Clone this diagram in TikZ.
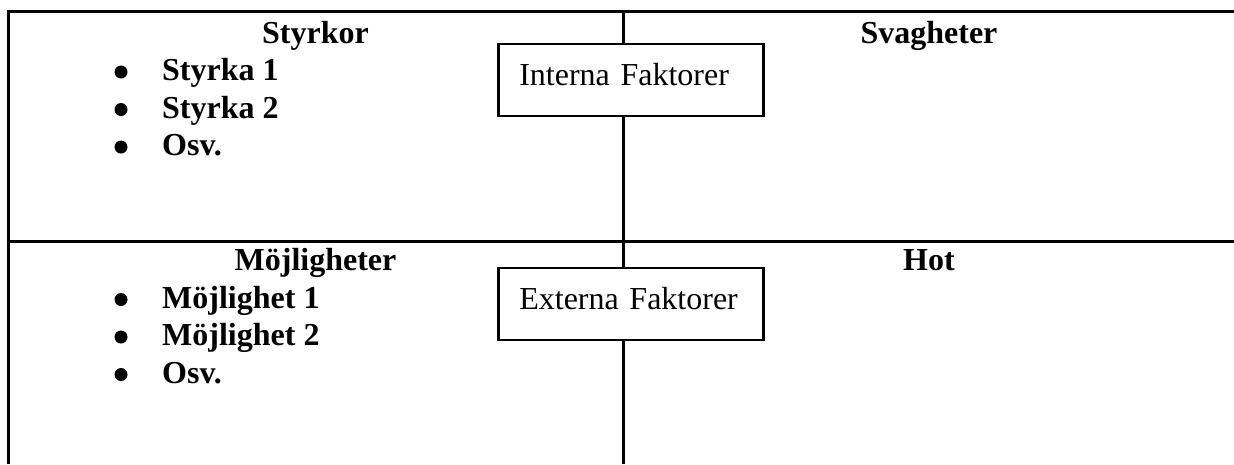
\documentclass[tikz,border=0pt]{standalone}
\usepackage{fontspec}
\setmainfont{Liberation Serif}
\begin{document}
\begin{tikzpicture}[x=1pt,y=-1pt,
  grid/.style={line width=3pt},
  factorbox/.style={draw,line width=2.6pt,fill=white,anchor=base west,
    inner xsep=21pt,inner ysep=10pt,text width=223pt,align=left,
    text height=31pt,text depth=21pt,
    font=\fontsize{32}{38}\selectfont},
  heading/.style={anchor=base,inner sep=0pt,font=\fontsize{32}{38}\selectfont\bfseries},
  item/.style={anchor=base west,inner sep=0pt,font=\fontsize{32}{38}\selectfont\bfseries},
  bulletdot/.style={circle,fill=black,inner sep=0pt,minimum size=13pt}
]
\useasboundingbox (0,0) rectangle (1234,464);

% frame corners and line ends
\coordinate (tl) at (8.5,11.5);
\coordinate (tr) at (1234,11.5);
\coordinate (bl) at (8.5,464);
\coordinate (ml) at (8.5,241);
\coordinate (mr) at (1234,241);
\coordinate (vt) at (623,11.5);
\coordinate (vb) at (623,464);

% grid lines
\draw[grid] (bl) -- (tl) -- (tr);
\draw[grid] (ml) -- (mr);

% factor boxes on the middle divider
\node[factorbox] (int) at (497,85) {Interna Faktorer};
\node[factorbox] (ext) at (497,309) {Externa Faktorer};

\draw[grid] (vt) -- (vt |- int.north);
\draw[grid] (vt |- int.south) -- (vt |- ext.north);
\draw[grid] (vt |- ext.south) -- (vb);

% quadrant headings
\node[heading] (s) at (315.5,43) {Styrkor};
\node[heading] (w) at (929,43) {Svagheter};
\node[heading] (o) at (315.5,270.5) {Möjligheter};
\node[heading] (t) at (929,270.5) {Hot};

% strengths list
\node[bulletdot] (sb1) at (121,72) {};
\node[bulletdot] (sb2) at (121,109.5) {};
\node[bulletdot] (sb3) at (121,147) {};
\node[item] (s1) at (162,80.5) {Styrka 1};
\node[item] (s2) at (162,118) {Styrka 2};
\node[item] (s3) at (162,155.5) {Osv.};

% opportunities list
\node[bulletdot] (ob1) at (121,299.5) {};
\node[bulletdot] (ob2) at (121,337) {};
\node[bulletdot] (ob3) at (121,374.5) {};
\node[item] (o1) at (162,308) {Möjlighet 1};
\node[item] (o2) at (162,345.5) {Möjlighet 2};
\node[item] (o3) at (162,383) {Osv.};
\end{tikzpicture}
\end{document}
